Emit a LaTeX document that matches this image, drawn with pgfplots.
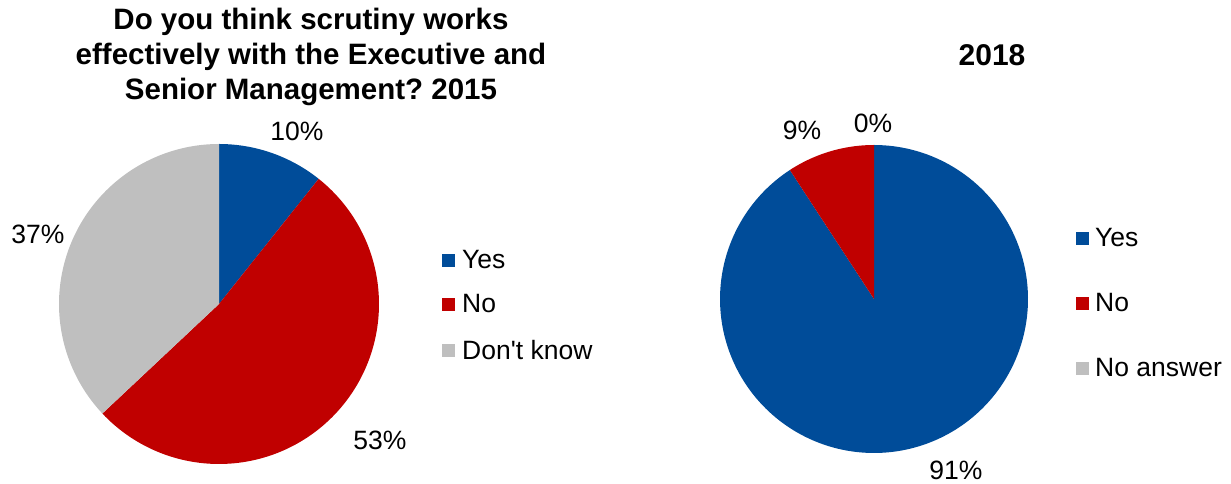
\documentclass[border=0pt]{standalone}
\usepackage{pgfplots}
\pgfplotsset{compat=1.18}
\usepackage{fontspec}
\setmainfont{Liberation Sans}[Ligatures=TeXOff]
\frenchspacing
\definecolor{cblue}{RGB}{0,76,153}
\definecolor{cred}{RGB}{192,0,0}
\definecolor{cgray}{RGB}{191,191,191}
\tikzset{lbl/.style={font=\fontsize{26.5}{30}\selectfont, inner sep=0pt}}
% 2015 values (%)
\def\aYes{10.7}\def\aNo{52.3}\def\aDK{37.0}
% 2018 values (%)
\def\bYes{90.8}\def\bNo{9.2}\def\bNA{0.0}
\begin{document}
\begin{tikzpicture}
\pgfmathsetmacro{\aS}{90-3.6*\aYes}
\pgfmathsetmacro{\aT}{\aS-3.6*\aNo}
\pgfmathsetmacro{\aU}{\aT-3.6*\aDK}
\pgfmathsetmacro{\bS}{90-3.6*\bYes}
\pgfmathsetmacro{\bT}{\bS-3.6*\bNo}
\begin{axis}[
  x=1pt, y=1pt, xmin=0, xmax=1231, ymin=0, ymax=484,
  scale only axis, hide axis, clip=false,
]
% ---- 2015 pie (clockwise from top)
\addplot[fill=cblue, draw=none, domain=\aS:90, samples=40, variable=\t]
  ({219+160*cos(\t)},{180+160*sin(\t)}) -- (axis cs:219,180) -- cycle;
\addplot[fill=cred, draw=none, domain=\aT:\aS, samples=120, variable=\t]
  ({219+160*cos(\t)},{180+160*sin(\t)}) -- (axis cs:219,180) -- cycle;
\addplot[fill=cgray, draw=none, domain=\aU:\aT, samples=90, variable=\t]
  ({219+160*cos(\t)},{180+160*sin(\t)}) -- (axis cs:219,180) -- cycle;
% ---- 2018 pie
\addplot[fill=cblue, draw=none, domain=\bS:90, samples=180, variable=\t]
  ({874+154*cos(\t)},{185+154*sin(\t)}) -- (axis cs:874,185) -- cycle;
\addplot[fill=cred, draw=none, domain=\bT:\bS, samples=30, variable=\t]
  ({874+154*cos(\t)},{185+154*sin(\t)}) -- (axis cs:874,185) -- cycle;
% ---- legend squares
\addplot[only marks, mark=square*, mark size=6, color=cblue] coordinates {(448,224)};
\addplot[only marks, mark=square*, mark size=6, color=cred] coordinates {(448,180)};
\addplot[only marks, mark=square*, mark size=6, color=cgray] coordinates {(448,134)};
\addplot[only marks, mark=square*, mark size=6, color=cblue] coordinates {(1082,246)};
\addplot[only marks, mark=square*, mark size=6, color=cred] coordinates {(1082,181)};
\addplot[only marks, mark=square*, mark size=6, color=cgray] coordinates {(1082,116)};
% ---- legend texts
\node[lbl, anchor=west] at (axis cs:462,224) {Yes};
\node[lbl, anchor=west] at (axis cs:462,180) {No};
\node[lbl, anchor=west] at (axis cs:462,134) {Don't know};
\node[lbl, anchor=west] at (axis cs:1095,246) {Yes};
\node[lbl, anchor=west] at (axis cs:1095,181) {No};
\node[lbl, anchor=west] at (axis cs:1095,116) {No answer};
% ---- data labels
\node[lbl] at (axis cs:297,353) {10\%};
\node[lbl] at (axis cs:380,44) {53\%};
\node[lbl] at (axis cs:38,250) {37\%};
\node[lbl] at (axis cs:802,354) {9\%};
\node[lbl] at (axis cs:873,361) {0\%};
\node[lbl] at (axis cs:956,14) {91\%};
% ---- titles
\node[lbl, font=\fontsize{29.5}{35}\selectfont\bfseries, align=center] at (axis cs:311,427)
  {Do you think scrutiny works\\effectively with the Executive and\\Senior Management? 2015};
\node[lbl, font=\fontsize{30}{30}\selectfont\bfseries] at (axis cs:992,429) {2018};
\end{axis}
\pgfresetboundingbox
\path (current axis.south west) rectangle (current axis.north east);
\end{tikzpicture}
\end{document}
